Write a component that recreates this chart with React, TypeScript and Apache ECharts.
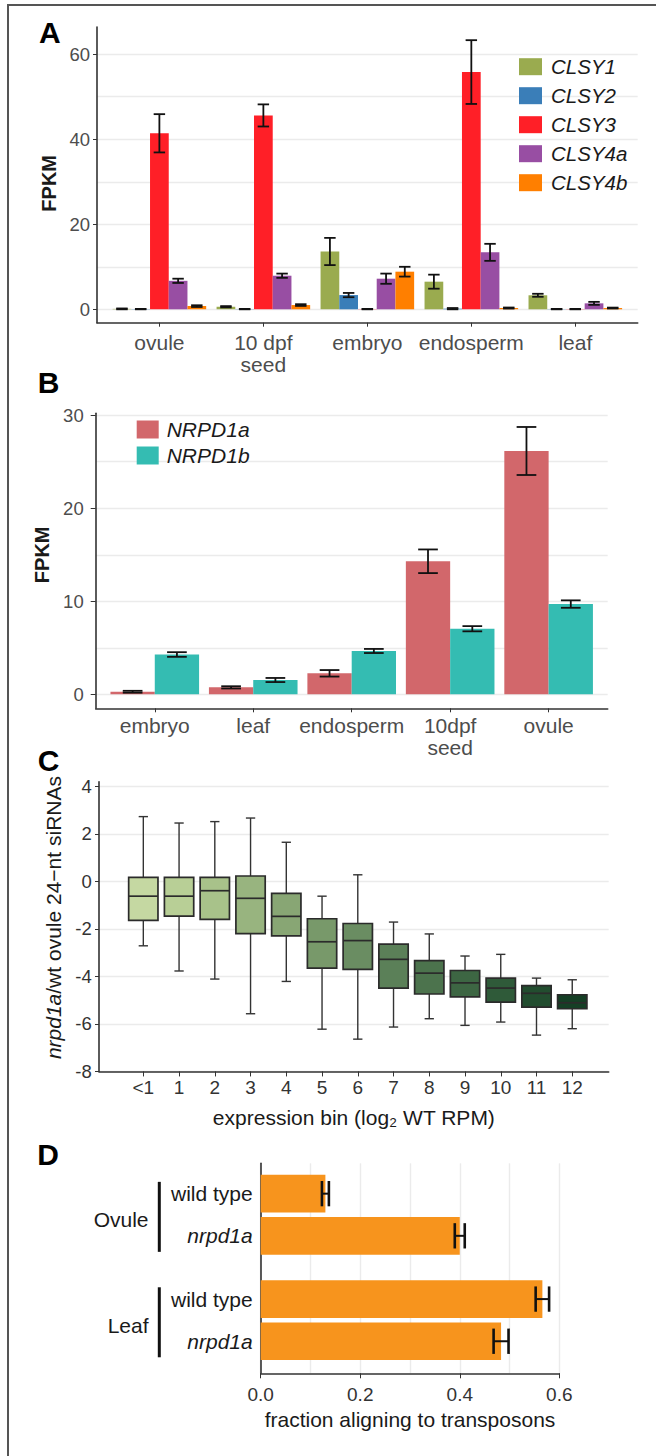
import React, { useEffect, useRef } from "react";
import * as echarts from "echarts";

const FONT = "'Liberation Sans', Arial, Helvetica, sans-serif";
const GRID_LINE = { color: "#ebebeb", width: 1.4 };
const AXIS_LINE = { color: "#333333", width: 1.6 };

// ---------- Panel A ----------
const tissuesA = ["ovule", "10 dpf\nseed", "embryo", "endosperm", "leaf"];
const clsyGenes = ["CLSY1", "CLSY2", "CLSY3", "CLSY4a", "CLSY4b"];
const clsy1 = [0.1, 0.6, 13.6, 6.5, 3.3];
const clsy1Err = [0.1, 0.15, 3.2, 1.65, 0.35];
const clsy2 = [0.05, 0.05, 3.35, 0.15, 0.05];
const clsy2Err = [0.05, 0.05, 0.5, 0.15, 0.05];
const clsy3 = [41.4, 45.6, 0.05, 55.8, 0.05];
const clsy3Err = [4.5, 2.6, 0.05, 7.5, 0.05];
const clsy4a = [6.7, 7.9, 7.2, 13.4, 1.4];
const clsy4aErr = [0.5, 0.5, 1.2, 2.0, 0.35];
const clsy4b = [0.75, 1.0, 8.85, 0.3, 0.3];
const clsy4bErr = [0.2, 0.2, 1.15, 0.12, 0.1];
const clsyColors = ["#9aab4f", "#3a7eb8", "#ff1f27", "#984ea3", "#ff7f00"];
const yTicksA = [0, 20, 40, 60];
const yGridA = [0, 10, 20, 30, 40, 50, 60];

// ---------- Panel B ----------
const tissuesB = ["embryo", "leaf", "endosperm", "10dpf\nseed", "ovule"];
const nrpdGenes = ["NRPD1a", "NRPD1b"];
const nrpd1a = [0.28, 0.75, 2.26, 14.3, 26.15];
const nrpd1aErr = [0.1, 0.12, 0.35, 1.27, 2.58];
const nrpd1b = [4.28, 1.54, 4.66, 7.05, 9.7];
const nrpd1bErr = [0.25, 0.22, 0.22, 0.28, 0.4];
const nrpdColors = ["#d2676b", "#34bcb2"];
const yTicksB = [0, 10, 20, 30];
const yGridB = [0, 5, 10, 15, 20, 25, 30];

// ---------- Panel C ----------
const binsC = ["<1", "1", "2", "3", "4", "5", "6", "7", "8", "9", "10", "11", "12"];
const whiskerHigh = [2.73, 2.46, 2.52, 2.67, 1.65, -0.62, 0.28, -1.71, -2.21, -3.14, -3.07, -4.07, -4.14];
const q3C = [0.17, 0.17, 0.17, 0.23, -0.5, -1.57, -1.77, -2.64, -3.33, -3.75, -4.07, -4.39, -4.77];
const medianC = [-0.62, -0.62, -0.39, -0.71, -1.47, -2.54, -2.49, -3.28, -3.86, -4.27, -4.49, -4.71, -5.11];
const q1C = [-1.64, -1.46, -1.6, -2.2, -2.29, -3.65, -3.7, -4.49, -4.74, -4.86, -5.08, -5.29, -5.36];
const whiskerLow = [-2.71, -3.77, -4.11, -5.57, -4.21, -6.22, -6.64, -6.13, -5.78, -6.06, -5.92, -6.47, -6.2];
const boxColors = ["#c5d8a2", "#b8cf96", "#a8c28a", "#98b47f", "#88a674", "#78996a", "#6a8d62", "#5b8058", "#4c734d", "#3d6643", "#2f5a39", "#224d2f", "#153f25"];
const yTicksC = [-8, -6, -4, -2, 0, 2, 4];

// ---------- Panel D ----------
const tissuesD = ["Ovule", "Leaf"];
const genotypesD = ["wild type", "nrpd1a"];
const fracOvule = [0.13, 0.4];
const fracOvuleErr = [0.007, 0.01];
const fracLeaf = [0.566, 0.483];
const fracLeafErr = [0.0135, 0.015];
const xTicksD = [0, 0.2, 0.4, 0.6];
const xGridD = [0, 0.1, 0.2, 0.3, 0.4, 0.5, 0.6];

const valuesA = [clsy1, clsy2, clsy3, clsy4a, clsy4b];
const errorsA = [clsy1Err, clsy2Err, clsy3Err, clsy4aErr, clsy4bErr];
const valuesB = [nrpd1a, nrpd1b];
const errorsB = [nrpd1aErr, nrpd1bErr];
const valuesD = [fracOvule, fracLeaf];
const errorsD = [fracOvuleErr, fracLeafErr];

// layout helper for panel D rows (group gap of half a slot)
const posD = (g: number, k: number) => 1 + g * (genotypesD.length + 0.5) + k;
const posListD: number[] = [];
const labelListD: string[] = [];
tissuesD.forEach((_, g) =>
  genotypesD.forEach((gt, k) => {
    posListD.push(posD(g, k));
    labelListD.push(gt);
  })
);

function errStyle(w = 1.8) {
  return { stroke: "#111111", lineWidth: w };
}

function vErrorBar(api: any, xc: number, v: number, e: number, halfCap: number, w = 1.8) {
  const top = api.coord([xc, v + e]);
  const bot = api.coord([xc, v - e]);
  const l = api.coord([xc - halfCap, v])[0];
  const r = api.coord([xc + halfCap, v])[0];
  return [
    { type: "line", shape: { x1: top[0], y1: top[1], x2: bot[0], y2: bot[1] }, style: errStyle(w) },
    { type: "line", shape: { x1: l, y1: top[1], x2: r, y2: top[1] }, style: errStyle(w) },
    { type: "line", shape: { x1: l, y1: bot[1], x2: r, y2: bot[1] }, style: errStyle(w) },
  ];
}

function dodgedBars(
  names: string[],
  colors: string[],
  values: number[][],
  errors: number[][],
  axisIndex: number,
  yAxisIndex: number,
  halfCap: number
) {
  const slot = 0.9 / names.length;
  return names.map((name, gi) => ({
    type: "custom",
    name,
    xAxisIndex: axisIndex,
    yAxisIndex,
    itemStyle: { color: colors[gi] },
    encode: { x: 0, y: 1 },
    data: values[gi].map((v, i) => [i + 1, v, errors[gi][i]]),
    renderItem: (_params: any, api: any) => {
      const x = api.value(0) as number;
      const v = api.value(1) as number;
      const e = api.value(2) as number;
      const left = x - 0.45 + gi * slot;
      const tl = api.coord([left, v]);
      const br = api.coord([left + slot, 0]);
      const xc = left + slot / 2;
      return {
        type: "group",
        children: [
          {
            type: "rect",
            shape: { x: tl[0], y: Math.min(tl[1], br[1]), width: br[0] - tl[0], height: Math.abs(br[1] - tl[1]) },
            style: { fill: colors[gi] },
          },
          ...vErrorBar(api, xc, v, e, halfCap),
        ],
      };
    },
  }));
}

function buildOption(): any {
  const tickLabel = (size: number, color: string, margin: number) => ({
    fontFamily: FONT,
    fontSize: size,
    color,
    margin,
  });

  const gridAxis = (gridIndex: number, min: number, max: number, values: number[]) => ({
    gridIndex,
    type: "value",
    min,
    max,
    axisLine: { show: false },
    axisLabel: { show: false },
    axisTick: { show: false, customValues: values },
    splitLine: { show: true, lineStyle: GRID_LINE },
  });

  const catA = tissuesA.map((_, i) => i + 1);
  const catB = tissuesB.map((_, i) => i + 1);
  const catC = binsC.map((_, i) => i);

  const xAxis = [
    {
      gridIndex: 0,
      type: "value",
      min: 0.4,
      max: 5.6,
      axisLine: { onZero: false, lineStyle: AXIS_LINE },
      axisTick: { show: true, length: 4, customValues: catA, lineStyle: { color: "#333" } },
      axisLabel: {
        ...tickLabel(21, "#4d4d4d", 8.5),
        lineHeight: 22,
        customValues: catA,
        formatter: (v: number) => tissuesA[Math.round(v) - 1] ?? "",
      },
      splitLine: { show: false },
    },
    {
      gridIndex: 1,
      type: "value",
      min: 0.4,
      max: 5.6,
      axisLine: { onZero: false, lineStyle: AXIS_LINE },
      axisTick: { show: true, length: 4, customValues: catB, lineStyle: { color: "#333" } },
      axisLabel: {
        ...tickLabel(21, "#4d4d4d", 6),
        lineHeight: 22,
        customValues: catB,
        formatter: (v: number) => tissuesB[Math.round(v) - 1] ?? "",
      },
      splitLine: { show: false },
    },
    {
      gridIndex: 2,
      type: "value",
      min: -1.24,
      max: 13.02,
      axisLine: { onZero: false, lineStyle: AXIS_LINE },
      axisTick: { show: true, length: 5, customValues: catC, lineStyle: { color: "#333" } },
      axisLabel: {
        ...tickLabel(19, "#333333", 6.5),
        customValues: catC,
        formatter: (v: number) => binsC[Math.round(v)] ?? "",
      },
      splitLine: { show: false },
      name: "expression bin (log\u2082 WT RPM)",
      nameLocation: "middle",
      nameGap: 36,
      nameTextStyle: { fontFamily: FONT, fontSize: 21, color: "#1a1a1a" },
    },
    {
      gridIndex: 3,
      type: "value",
      min: 0,
      max: 0.6,
      axisLine: { onZero: false, lineStyle: AXIS_LINE },
      axisTick: { show: true, length: 5, customValues: xTicksD, lineStyle: { color: "#333" } },
      axisLabel: {
        ...tickLabel(19, "#333333", 12),
        customValues: xTicksD,
        formatter: (v: number) => v.toFixed(1),
      },
      splitLine: { show: false },
      name: "fraction aligning to transposons",
      nameLocation: "middle",
      nameGap: 36,
      nameTextStyle: { fontFamily: FONT, fontSize: 21, color: "#1a1a1a" },
    },
    gridAxis(3, 0, 0.6, xGridD),
  ];

  const yAxis = [
    {
      gridIndex: 0,
      type: "value",
      min: -3.15,
      max: 66.4,
      axisLine: { show: true, onZero: false, lineStyle: AXIS_LINE },
      axisTick: { show: true, length: 4, customValues: yTicksA, lineStyle: { color: "#333" } },
      axisLabel: { ...tickLabel(18.5, "#4d4d4d", 7), customValues: yTicksA },
      splitLine: { show: false },
      name: "FPKM",
      nameLocation: "middle",
      nameGap: 35,
      nameTextStyle: { fontFamily: FONT, fontSize: 20, fontWeight: "bold", color: "#1a1a1a", padding: [0, 17, 0, 0] },
    },
    gridAxis(0, -3.15, 66.4, yGridA),
    {
      gridIndex: 1,
      type: "value",
      min: -1.5,
      max: 30.2,
      axisLine: { show: true, onZero: false, lineStyle: AXIS_LINE },
      axisTick: { show: true, length: 5, customValues: yTicksB, lineStyle: { color: "#333" } },
      axisLabel: { ...tickLabel(18.5, "#4d4d4d", 12), customValues: yTicksB },
      splitLine: { show: false },
      name: "FPKM",
      nameLocation: "middle",
      nameGap: 33.5,
      nameTextStyle: { fontFamily: FONT, fontSize: 20, fontWeight: "bold", color: "#1a1a1a", padding: [0, 0, 0, 12] },
    },
    gridAxis(1, -1.5, 30.2, yGridB),
    {
      gridIndex: 2,
      type: "value",
      min: -8,
      max: 4.2,
      axisLine: { show: true, onZero: false, lineStyle: AXIS_LINE },
      axisTick: { show: true, length: 4, customValues: yTicksC, lineStyle: { color: "#333" } },
      axisLabel: { ...tickLabel(18.5, "#333333", 7.3), customValues: yTicksC },
      splitLine: { show: true, lineStyle: GRID_LINE },
      name: "{i|nrpd1a}/wt ovule 24\u2212nt siRNAs",
      nameLocation: "middle",
      nameGap: 24.5,
      nameTextStyle: {
        fontFamily: FONT,
        fontSize: 21,
        color: "#1a1a1a",
        padding: [0, 0, 0, 18],
        rich: { i: { fontFamily: FONT, fontSize: 21, color: "#1a1a1a", fontStyle: "italic" } },
      },
    },
    {
      gridIndex: 3,
      type: "value",
      inverse: true,
      min: 0.28,
      max: 5.26,
      axisLine: { show: true, onZero: false, lineStyle: AXIS_LINE },
      axisTick: { show: false },
      axisLabel: {
        fontFamily: FONT,
        fontSize: 21,
        color: "#1a1a1a",
        margin: 8,
        customValues: posListD,
        formatter: (v: number) => {
          const idx = posListD.findIndex((p) => Math.abs(p - v) < 1e-6);
          const t = idx >= 0 ? labelListD[idx] : "";
          return t === "nrpd1a" ? "{i|nrpd1a}" : t;
        },
        rich: { i: { fontFamily: FONT, fontSize: 21, color: "#1a1a1a", fontStyle: "italic" } },
      },
      splitLine: { show: false },
    },
  ];

  const seriesA = dodgedBars(clsyGenes, clsyColors, valuesA, errorsA, 0, 0, 0.055);
  const seriesB = dodgedBars(nrpdGenes, nrpdColors, valuesB, errorsB, 1, 2, 0.1);

  const seriesC = {
    type: "custom",
    name: "boxes",
    xAxisIndex: 2,
    yAxisIndex: 4,
    encode: { x: 0, y: [1, 2, 3, 4, 5] },
    data: binsC.map((_, i) => [i, whiskerLow[i], q1C[i], medianC[i], q3C[i], whiskerHigh[i]]),
    renderItem: (params: any, api: any) => {
      const x = api.value(0) as number;
      const lo = api.value(1) as number;
      const a = api.value(2) as number;
      const m = api.value(3) as number;
      const b = api.value(4) as number;
      const hi = api.value(5) as number;
      const hw = 0.41;
      const cw = 0.13;
      const pHi = api.coord([x, hi]);
      const pLo = api.coord([x, lo]);
      const pB = api.coord([x - hw, b]);
      const pA = api.coord([x + hw, a]);
      const pM = api.coord([x, m]);
      const cl = api.coord([x - cw, 0])[0];
      const cr = api.coord([x + cw, 0])[0];
      const ls = { stroke: "#333333", lineWidth: 1.4 };
      return {
        type: "group",
        children: [
          { type: "line", shape: { x1: pHi[0], y1: pHi[1], x2: pHi[0], y2: pB[1] }, style: { ...ls } },
          { type: "line", shape: { x1: pLo[0], y1: pA[1], x2: pLo[0], y2: pLo[1] }, style: { ...ls } },
          { type: "line", shape: { x1: cl, y1: pHi[1], x2: cr, y2: pHi[1] }, style: { ...ls } },
          { type: "line", shape: { x1: cl, y1: pLo[1], x2: cr, y2: pLo[1] }, style: { ...ls } },
          {
            type: "rect",
            shape: { x: pB[0], y: pB[1], width: pA[0] - pB[0], height: pA[1] - pB[1] },
            style: { fill: boxColors[params.dataIndex], stroke: "#2b2b2b", lineWidth: 1.7 },
          },
          { type: "line", shape: { x1: pB[0], y1: pM[1], x2: pA[0], y2: pM[1] }, style: { stroke: "#2b2b2b", lineWidth: 1.7 } },
        ],
      };
    },
  };

  const rowsD: number[][] = [];
  tissuesD.forEach((_, g) =>
    genotypesD.forEach((__, k) => rowsD.push([valuesD[g][k], posD(g, k), errorsD[g][k]]))
  );

  const seriesD = {
    type: "custom",
    name: "fraction",
    xAxisIndex: 3,
    yAxisIndex: 5,
    encode: { x: 0, y: 1 },
    data: rowsD,
    renderItem: (_params: any, api: any) => {
      const v = api.value(0) as number;
      const p = api.value(1) as number;
      const e = api.value(2) as number;
      const hb = 0.447;
      const p0 = api.coord([0, p - hb]);
      const p1 = api.coord([v, p + hb]);
      const c = api.coord([v - e, p]);
      const d = api.coord([v + e, p]);
      const capTop = api.coord([v, p - 0.3])[1];
      const capBot = api.coord([v, p + 0.3])[1];
      return {
        type: "group",
        children: [
          {
            type: "rect",
            shape: { x: p0[0], y: Math.min(p0[1], p1[1]), width: p1[0] - p0[0], height: Math.abs(p1[1] - p0[1]) },
            style: { fill: "#f7941d" },
          },
          { type: "line", shape: { x1: c[0], y1: c[1], x2: d[0], y2: d[1] }, style: errStyle(2) },
          { type: "line", shape: { x1: c[0], y1: capTop, x2: c[0], y2: capBot }, style: errStyle(2.6) },
          { type: "line", shape: { x1: d[0], y1: capTop, x2: d[0], y2: capBot }, style: errStyle(2.6) },
        ],
      };
    },
  };

  const seriesDGroups = {
    type: "custom",
    name: "groups",
    xAxisIndex: 3,
    yAxisIndex: 5,
    clip: false,
    encode: { x: 0, y: 1 },
    data: tissuesD.map((_, g) => [0, (posD(g, 0) + posD(g, genotypesD.length - 1)) / 2, g]),
    renderItem: (_params: any, api: any) => {
      const g = api.value(2) as number;
      const first = posD(g, 0);
      const last = posD(g, genotypesD.length - 1);
      const axisX = api.coord([0, first])[0];
      const yTop = api.coord([0, first - 0.28])[1];
      const yBot = api.coord([0, last + 0.38])[1];
      const yMid = api.coord([0, (first + last) / 2 + 0.12])[1];
      return {
        type: "group",
        children: [
          {
            type: "line",
            shape: { x1: axisX - 101.4, y1: yTop, x2: axisX - 101.4, y2: yBot },
            style: { stroke: "#111111", lineWidth: 3 },
          },
          {
            type: "text",
            x: axisX - 112.2,
            y: yMid,
            style: {
              text: tissuesD[g],
              fill: "#1a1a1a",
              fontSize: 21,
              fontFamily: FONT,
              align: "right",
              verticalAlign: "middle",
            },
          },
        ],
      };
    },
  };

  const letter = (t: string, x: number, y: number) => ({
    type: "text",
    x,
    y,
    style: {
      text: t,
      fill: "#000000",
      fontSize: 30,
      fontWeight: "bold",
      fontFamily: FONT,
      align: "left",
      verticalAlign: "middle",
    },
  });

  return {
    animation: false,
    backgroundColor: "#ffffff",
    textStyle: { fontFamily: FONT },
    grid: [
      { left: 97, top: 27, width: 540.7, height: 295.7, outerBoundsMode: "none" },
      { left: 95.7, top: 413.3, width: 512, height: 295, outerBoundsMode: "none" },
      { left: 99, top: 781.7, width: 509.7, height: 289.75, outerBoundsMode: "none" },
      { left: 260.7, top: 1163.3, width: 298.6, height: 210, outerBoundsMode: "none" },
    ],
    xAxis,
    yAxis,
    legend: [
      {
        data: clsyGenes,
        orient: "vertical",
        left: 519,
        top: 56.7,
        itemWidth: 23,
        itemHeight: 17,
        itemGap: 9,
        icon: "rect",
        padding: 0,
        selectedMode: false,
        textStyle: {
          fontFamily: FONT,
          fontSize: 20.5,
          fontStyle: "italic",
          color: "#1a1a1a",
          lineHeight: 17,
          padding: [0, 0, 0, 4],
        },
      },
      {
        data: nrpdGenes,
        orient: "vertical",
        left: 136.7,
        top: 419,
        itemWidth: 22,
        itemHeight: 18,
        itemGap: 5,
        icon: "rect",
        padding: 0,
        selectedMode: false,
        textStyle: {
          fontFamily: FONT,
          fontSize: 21,
          fontStyle: "italic",
          color: "#1a1a1a",
          lineHeight: 18,
          padding: [0, 0, 0, 3],
        },
      },
    ],
    graphic: [
      {
        type: "rect",
        shape: { x: 8, y: 5, width: 700, height: 1500 },
        style: { fill: "none", stroke: "#555555", lineWidth: 2 },
        silent: true,
      },
      letter("A", 39, 32.7),
      letter("B", 37.8, 382.5),
      letter("C", 37.8, 760.8),
      letter("D", 37.2, 1154.2),
    ],
    series: [...seriesA, ...seriesB, seriesC, seriesD, seriesDGroups],
  };
}

export default function App() {
  const ref = useRef<HTMLDivElement>(null);
  useEffect(() => {
    if (!ref.current) return;
    const chart = echarts.init(ref.current, undefined, { renderer: "svg" });
    chart.setOption(buildOption());
    return () => {
      chart.dispose();
    };
  }, []);
  return (
    <div
      ref={ref}
      style={{ position: "absolute", left: 0, top: 0, width: 656, height: 1456, background: "#ffffff", overflow: "hidden" }}
    />
  );
}
